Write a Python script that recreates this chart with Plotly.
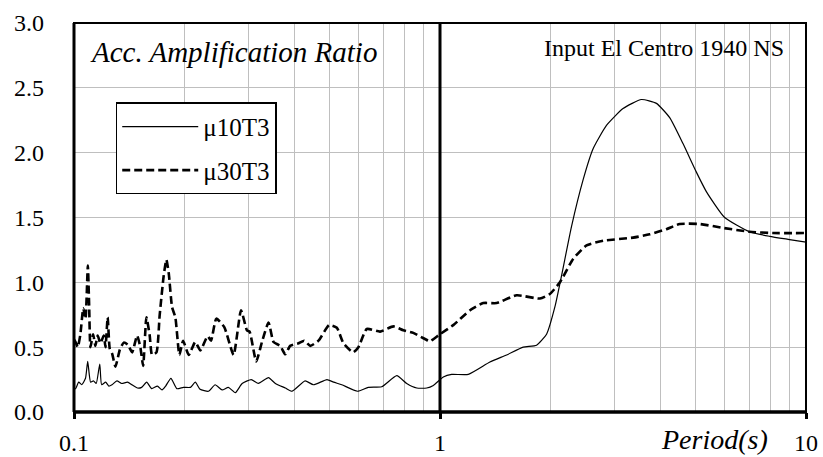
import plotly.graph_objects as go

# Acceleration amplification ratio vs. period (El Centro 1940 NS input)
mu10_period = [0.100, 0.101, 0.103, 0.105, 0.1075, 0.109, 0.111, 0.113, 0.115, 0.1176,
               0.119, 0.122, 0.1245, 0.127, 0.131, 0.135, 0.140, 0.144, 0.149, 0.153,
               0.158, 0.163, 0.169, 0.174, 0.178, 0.184, 0.191, 0.199, 0.208, 0.2145,
               0.221, 0.233, 0.243, 0.254, 0.264, 0.276, 0.288, 0.305, 0.319, 0.340,
               0.355, 0.378, 0.394, 0.428, 0.451, 0.491, 0.512, 0.539, 0.595, 0.637,
               0.693, 0.762, 0.811, 0.864, 0.920, 0.959, 1.021, 1.076, 1.195, 1.369,
               1.521, 1.688, 1.836, 1.955, 2.060, 2.148, 2.287, 2.460, 2.620, 2.850,
               3.163, 3.551, 3.903, 4.242, 4.612, 5.017, 5.342, 5.995, 7.013, 7.951,
               9.016, 10.0]
mu10_ratio = [0.18, 0.18, 0.23, 0.21, 0.26, 0.39, 0.23, 0.24, 0.22, 0.37,
              0.21, 0.23, 0.20, 0.21, 0.24, 0.22, 0.23, 0.21, 0.185, 0.19,
              0.23, 0.18, 0.20, 0.17, 0.20, 0.26, 0.18, 0.19, 0.19, 0.23,
              0.175, 0.16, 0.21, 0.17, 0.19, 0.15, 0.22, 0.25, 0.22, 0.265,
              0.22, 0.185, 0.16, 0.24, 0.21, 0.25, 0.23, 0.21, 0.16, 0.19,
              0.195, 0.28, 0.22, 0.185, 0.185, 0.205, 0.27, 0.29, 0.29, 0.385,
              0.44, 0.50, 0.515, 0.60, 0.81, 1.05, 1.43, 1.79, 2.03, 2.21,
              2.34, 2.41, 2.38, 2.27, 2.07, 1.85, 1.70, 1.50, 1.39, 1.355,
              1.33, 1.31]

mu30_period = [0.100, 0.101, 0.1024, 0.1041, 0.1060, 0.1075, 0.1091, 0.1100, 0.1109, 0.1128,
               0.1144, 0.1161, 0.1181, 0.1206, 0.1219, 0.1236, 0.1252, 0.1271, 0.1298, 0.1334,
               0.1367, 0.1402, 0.1442, 0.1487, 0.1518, 0.1545, 0.1577, 0.1610, 0.1634, 0.1680,
               0.1714, 0.1758, 0.1788, 0.1815, 0.1853, 0.1892, 0.1941, 0.1986, 0.2058, 0.2145,
               0.2214, 0.2318, 0.2368, 0.2448, 0.2574, 0.2729, 0.2860, 0.2969, 0.3018, 0.3147,
               0.3262, 0.3401, 0.3509, 0.3660, 0.3777, 0.3896, 0.4106, 0.4256, 0.4420, 0.4656,
               0.4979, 0.5226, 0.5447, 0.5788, 0.5985, 0.6310, 0.6859, 0.7459, 0.7941, 0.8456,
               0.9275, 0.9390, 1.000, 1.087, 1.208, 1.313, 1.428, 1.620, 1.875, 1.996,
               2.126, 2.311, 2.514, 2.790, 3.369, 3.741, 4.155, 4.518, 5.122, 5.929,
               7.013, 8.118, 10.0]
mu30_ratio = [0.56, 0.54, 0.50, 0.60, 0.80, 0.72, 1.13, 0.82, 0.50, 0.60,
              0.51, 0.59, 0.53, 0.59, 0.50, 0.73, 0.49, 0.45, 0.35, 0.48,
              0.535, 0.52, 0.46, 0.59, 0.50, 0.355, 0.73, 0.59, 0.44, 0.46,
              0.745, 1.05, 1.175, 1.07, 0.81, 0.73, 0.44, 0.55, 0.44, 0.54,
              0.475, 0.585, 0.55, 0.72, 0.655, 0.44, 0.785, 0.63, 0.62, 0.39,
              0.54, 0.69, 0.54, 0.51, 0.445, 0.51, 0.53, 0.55, 0.51, 0.55,
              0.67, 0.65, 0.53, 0.46, 0.50, 0.64, 0.62, 0.66, 0.63, 0.61,
              0.55, 0.545, 0.60, 0.67, 0.785, 0.84, 0.84, 0.90, 0.875, 0.91,
              1.00, 1.18, 1.285, 1.32, 1.345, 1.37, 1.41, 1.45, 1.45, 1.42,
              1.39, 1.38, 1.38]

x_major = [0.1, 1, 10]
x_major_text = ["0.1", "1", "10"]
x_minor = [0.2, 0.3, 0.4, 0.5, 0.6, 0.7, 0.8, 0.9, 2, 3, 4, 5, 6, 7, 8, 9]
y_ticks = [0.0, 0.5, 1.0, 1.5, 2.0, 2.5, 3.0]

SERIF = "Liberation Serif"
GRID = "#bfbfbf"

fig = go.Figure()
fig.add_trace(go.Scatter(
    x=mu10_period, y=mu10_ratio, mode="lines", name="μ10T3",
    legendgroup="a",
    line=dict(color="black", width=1.2, shape="spline", smoothing=0.5),
))
fig.add_trace(go.Scatter(
    x=mu30_period, y=mu30_ratio, mode="lines", name="μ30T3",
    legendgroup="b",
    line=dict(color="black", width=2.6, dash="8px,4px", shape="spline", smoothing=0.5),
))

fig.update_layout(
    width=823, height=457,
    margin=dict(l=74, r=17, t=23, b=45, autoexpand=False),
    paper_bgcolor="white", plot_bgcolor="white",
    font=dict(family=SERIF, size=24, color="black"),
    showlegend=True,
    legend=dict(
        x=0.057, y=0.796, xanchor="left", yanchor="top",
        bgcolor="white", bordercolor="black", borderwidth=1.5,
        font=dict(family=SERIF, size=25, color="black"),
        itemwidth=76, tracegroupgap=8, traceorder="grouped",
    ),
    xaxis=dict(
        type="log", range=[-1, 1], automargin=False,
        tickmode="array", tickvals=x_major, ticktext=x_major_text,
        ticks="outside", ticklen=6, tickwidth=3, tickcolor="black",
        ticklabelstandoff=3,
        showgrid=True, gridcolor=GRID, gridwidth=1,
        minor=dict(tickmode="array", tickvals=x_minor, showgrid=True,
                   gridcolor=GRID, gridwidth=1, ticks=""),
        showline=False, zeroline=False,
        tickfont=dict(family=SERIF, size=24),
    ),
    yaxis=dict(
        range=[0, 3], automargin=False, tickmode="array", tickvals=y_ticks,
        tickformat=".1f", ticks="", ticklabelstandoff=29,
        showgrid=True, gridcolor=GRID, gridwidth=1,
        showline=False, zeroline=False,
        tickfont=dict(family=SERIF, size=24),
    ),
    shapes=[
        # plot frame
        dict(type="rect", xref="paper", yref="paper", x0=0, x1=1, y0=0, y1=1,
             line=dict(color="black", width=2)),
        # heavier left and bottom axes
        dict(type="line", xref="paper", yref="paper", x0=0, x1=0, y0=0, y1=1,
             line=dict(color="black", width=3)),
        dict(type="line", xref="paper", yref="paper", x0=0, x1=1, y0=0, y1=0,
             line=dict(color="black", width=3.5)),
        # period = 1 s divider
        dict(type="line", xref="x", yref="paper", x0=1, x1=1, y0=0, y1=1,
             line=dict(color="black", width=3)),
    ],
    annotations=[
        dict(text="<i>Acc. Amplification Ratio</i>", xref="paper", yref="paper",
             x=0.019, y=0.926, xanchor="left", yanchor="middle", showarrow=False,
             font=dict(family=SERIF, size=29)),
        dict(text="Input El Centro 1940 NS", xref="paper", yref="paper",
             x=0.973, y=0.9355, xanchor="right", yanchor="middle", showarrow=False,
             font=dict(family=SERIF, size=24)),
        dict(text="<i>Period(s)</i>", xref="paper", yref="paper",
             x=0.951, y=-0.070, xanchor="right", yanchor="middle", showarrow=False,
             font=dict(family=SERIF, size=28)),
    ],
)

fig.write_html("out.html")
